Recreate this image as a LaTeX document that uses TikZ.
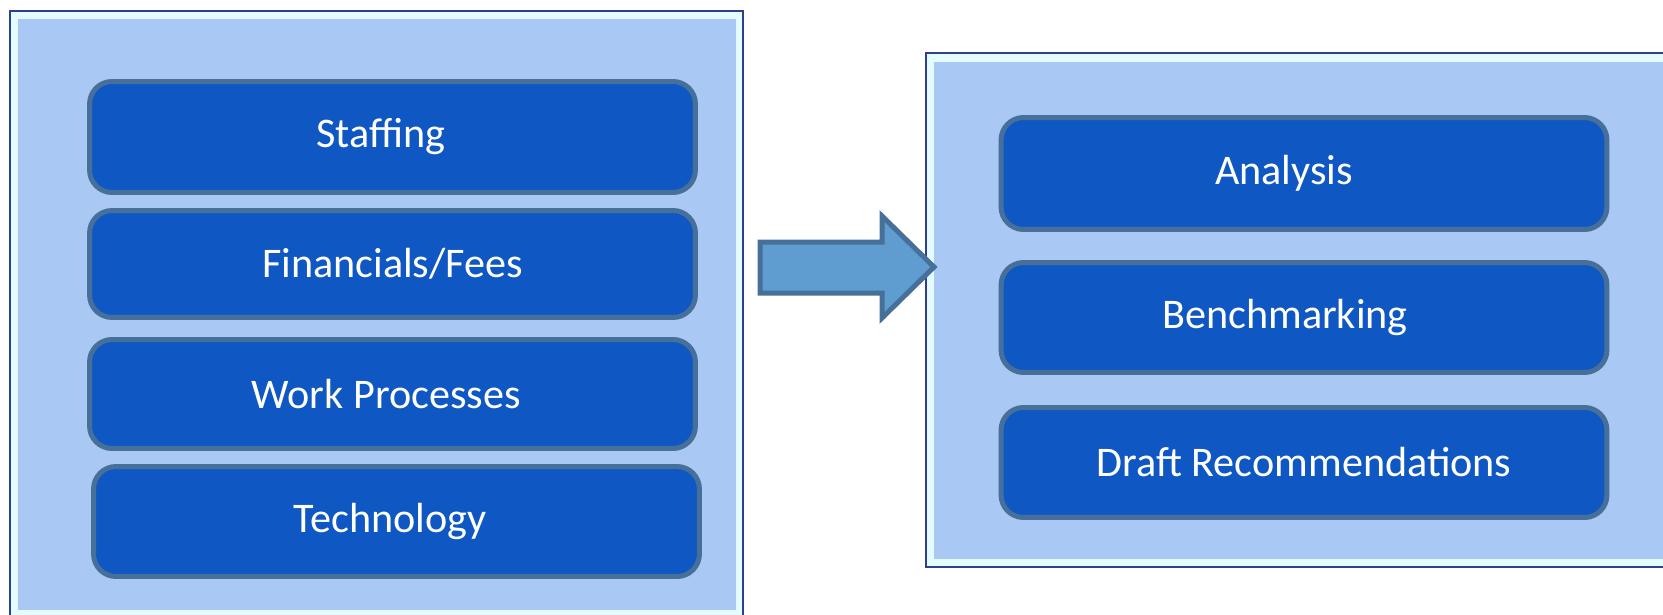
\documentclass[tikz,border=0pt]{standalone}
\usepackage{fontspec}
\setmainfont{Carlito}
\usepackage{tikz}

\definecolor{boxfill}{HTML}{0F57C2}
\definecolor{boxline}{HTML}{46709A}
\definecolor{panelfill}{HTML}{A9C8F4}
\definecolor{panelrim}{HTML}{E4FCFF}
\definecolor{frameline}{HTML}{2E3F8C}
\definecolor{arrowfill}{HTML}{5F9DD0}

\tikzset{
	stage/.style={draw=boxline, line width=0.1cm, fill=boxfill, rounded corners=0.45cm,
		minimum width=12.12cm, minimum height=2.2cm, text=white, inner sep=0pt,
		font=\fontsize{24}{28}\selectfont},
	panel/.style={draw=frameline, line width=0.6pt, fill=panelrim}
}

\begin{document}
\begin{tikzpicture}[x=0.02cm, y=-0.02cm]
	\useasboundingbox (0,0) rectangle (1663,615);
	% left panel
	\draw[panel] (10,11) rectangle (743,625);
	\fill[panelfill] (18,19) rectangle (736,610);
	% right panel
	\draw[panel] (926,53) rectangle (1680,567);
	\fill[panelfill] (934,62) rectangle (1680,559);
	% block arrow
	\draw[boxline, line width=0.1cm, fill=arrowfill] (760,242) -- (882,242) -- (882,216) -- (934,267) -- (882,318) -- (882,293) -- (760,293) -- cycle;
	% left stack
	\node[stage, minimum height=2.22cm] (staffing) at (392.5,137) {Staffing\hspace*{0.47cm}};
	\node[stage, minimum height=2.14cm] (fees) at (392.5,264) {Financials/Fees};
	\node[stage, minimum height=2.18cm] (process) at (392.5,394) {Work Processes\hspace*{0.25cm}};
	\node[stage] (techno) at (396.5,521.5) {Technology\hspace*{0.25cm}};
	% right stack
	\node[stage, minimum height=2.24cm] (analysis) at (1304,173.5) {Analysis\hspace*{0.8cm}};
	\node[stage] (bench) at (1304,317.5) {Benchmarking\hspace*{0.76cm}};
	\node[stage] (draft) at (1304,462.5) {Draft Recommendations};
\end{tikzpicture}
\end{document}
